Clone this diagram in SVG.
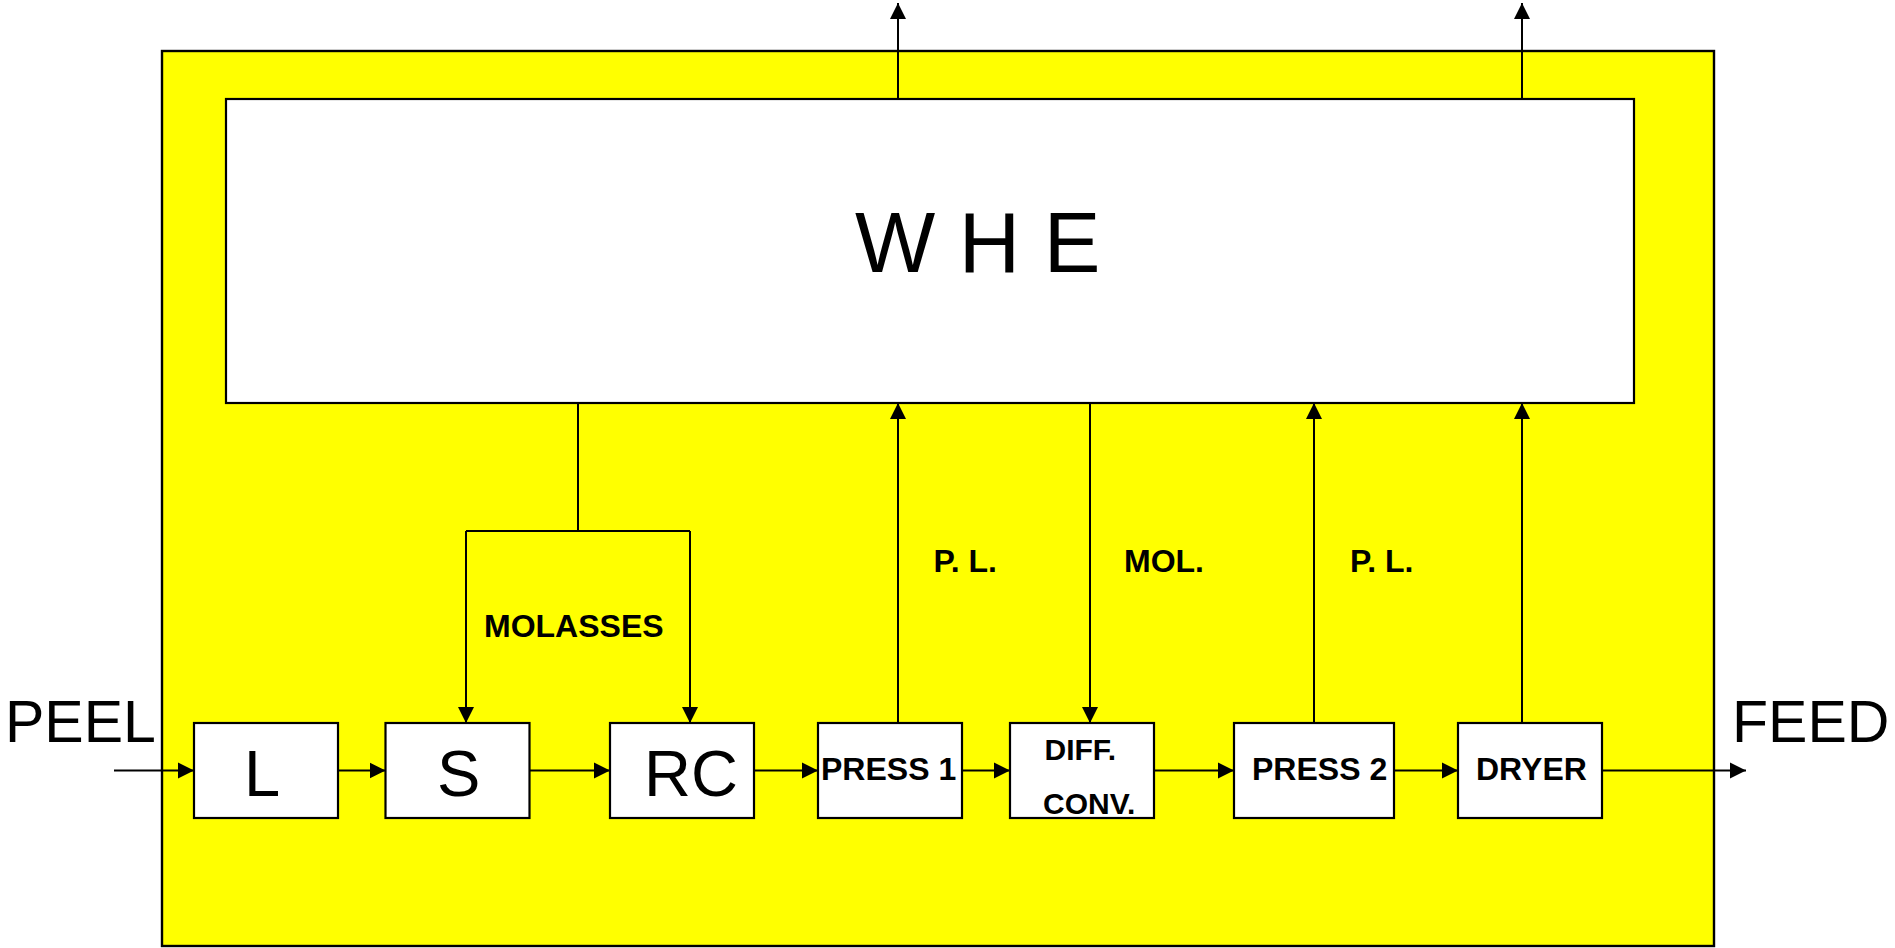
<svg xmlns="http://www.w3.org/2000/svg" width="1895" height="948" viewBox="0 0 1895 948">
<style>
.box{fill:#fff;stroke:#000;stroke-width:2.2}
.frame{fill:#ffff00;stroke:#000;stroke-width:2.4}
.ln{fill:none;stroke:#000;stroke-width:2}
.big{font-family:"Liberation Sans",Arial,sans-serif;font-size:65px;fill:#000}
.io{font-family:"Liberation Sans",Arial,sans-serif;font-size:59px;fill:#000}
.lbl{font-family:"Liberation Sans",Arial,sans-serif;font-size:32px;font-weight:bold;fill:#000}
.sm{font-family:"Liberation Sans",Arial,sans-serif;font-size:30px;font-weight:bold;fill:#000}
</style>
<defs>
<marker id="ah" markerUnits="userSpaceOnUse" markerWidth="17" markerHeight="17" viewBox="0 0 17 17" refX="16" refY="8.5" orient="auto">
<path d="M0,0.5 L16,8.5 L0,16.5 Z" fill="#000"/>
</marker>
</defs>
<rect id="frame" class="frame" x="162" y="51" width="1552" height="895"/>
<g id="whe"><rect class="box" x="226" y="99" width="1408" height="304"/><text class="io" x="855" y="272" style="font-size:85px">W H E</text></g>
<g id="peel"><text class="io" x="5" y="742">PEEL</text></g>
<g id="feed"><text class="io" x="1732" y="742">FEED</text></g>
<g id="L"><rect class="box" x="194" y="723" width="144" height="95"/><text class="big" x="244" y="796">L</text></g>
<g id="S"><rect class="box" x="385.5" y="723" width="144" height="95"/><text class="big" x="437" y="796">S</text></g>
<g id="RC"><rect class="box" x="610" y="723" width="144" height="95"/><text class="big" x="644" y="796">RC</text></g>
<g id="press1"><rect class="box" x="818" y="723" width="144" height="95"/><text class="lbl" x="821" y="780">PRESS 1</text></g>
<g id="diff"><rect class="box" x="1010" y="723" width="144" height="95"/><text class="sm" x="1044.5" y="760">DIFF.</text><text class="sm" x="1043" y="814">CONV.</text></g>
<g id="press2"><rect class="box" x="1234" y="723" width="160" height="95"/><text class="lbl" x="1252" y="780">PRESS 2</text></g>
<g id="dryer"><rect class="box" x="1458" y="723" width="144" height="95"/><text class="lbl" x="1476" y="780">DRYER</text></g>
<g id="connectors">
<line class="ln" x1="114" y1="770.5" x2="194" y2="770.5" marker-end="url(#ah)"/>
<line class="ln" x1="338" y1="770.5" x2="385.5" y2="770.5" marker-end="url(#ah)"/>
<line class="ln" x1="529.5" y1="770.5" x2="610" y2="770.5" marker-end="url(#ah)"/>
<line class="ln" x1="754" y1="770.5" x2="818" y2="770.5" marker-end="url(#ah)"/>
<line class="ln" x1="962" y1="770.5" x2="1010" y2="770.5" marker-end="url(#ah)"/>
<line class="ln" x1="1154" y1="770.5" x2="1234" y2="770.5" marker-end="url(#ah)"/>
<line class="ln" x1="1394" y1="770.5" x2="1458" y2="770.5" marker-end="url(#ah)"/>
<line class="ln" x1="1602" y1="770.5" x2="1746" y2="770.5" marker-end="url(#ah)"/>
<polyline class="ln" points="578,403 578,531"/>
<polyline class="ln" points="466,531 690,531"/>
<line class="ln" x1="466" y1="531" x2="466" y2="723" marker-end="url(#ah)"/>
<line class="ln" x1="690" y1="531" x2="690" y2="723" marker-end="url(#ah)"/>
<line class="ln" x1="898" y1="723" x2="898" y2="403" marker-end="url(#ah)"/>
<line class="ln" x1="1090" y1="403" x2="1090" y2="723" marker-end="url(#ah)"/>
<line class="ln" x1="1314" y1="723" x2="1314" y2="403" marker-end="url(#ah)"/>
<line class="ln" x1="1522" y1="723" x2="1522" y2="403" marker-end="url(#ah)"/>
<line class="ln" x1="898" y1="99" x2="898" y2="3" marker-end="url(#ah)"/>
<line class="ln" x1="1522" y1="99" x2="1522" y2="3" marker-end="url(#ah)"/>
</g>
<g id="labels">
<text class="lbl" x="484" y="637">MOLASSES</text>
<text class="lbl" x="933.5" y="572">P. L.</text>
<text class="lbl" x="1124" y="572">MOL.</text>
<text class="lbl" x="1350" y="572">P. L.</text>
</g>
</svg>
